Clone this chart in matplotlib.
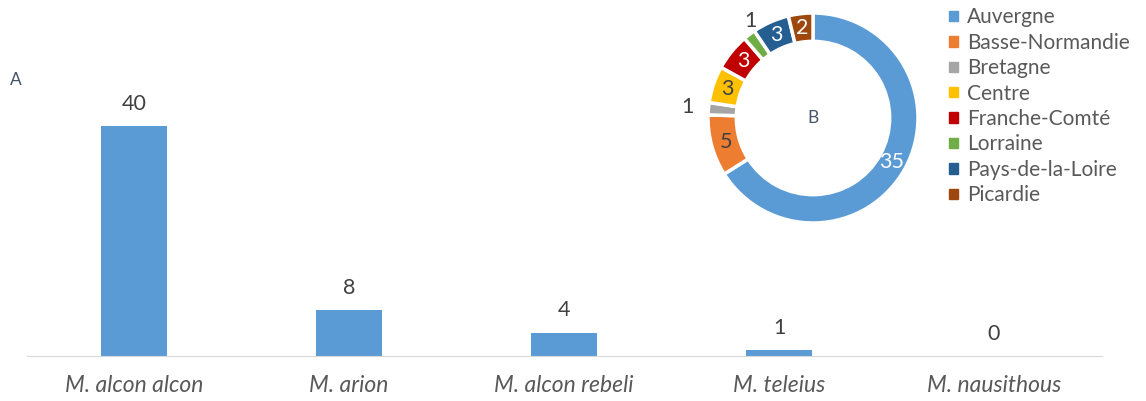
import numpy as np
import matplotlib
matplotlib.use("Agg")
import matplotlib.pyplot as plt

plt.rcParams['font.family'] = ['Lato', 'DejaVu Sans']

# Données
especes = ["M. alcon alcon", "M. arion", "M. alcon rebeli", "M. teleius", "M. nausithous"]
effectifs = [40, 8, 4, 1, 0]

regions = ["Auvergne", "Basse-Normandie", "Bretagne", "Centre", "Franche-Comté",
           "Lorraine", "Pays-de-la-Loire", "Picardie"]
valeurs_regions = [35, 5, 1, 3, 3, 1, 3, 2]
couleurs = ["#5B9BD5", "#ED7D31", "#A5A5A5", "#FFC000", "#C00000",
            "#70AD47", "#255E91", "#9E480E"]
couleurs_texte = ["white", "#404040", "#404040", "#404040", "white",
                  "#404040", "white", "white"]

W, H = 1146, 401
fig = plt.figure(figsize=(W / 100, H / 100), dpi=100)

# Graphique A : barres
ax = fig.add_axes([26.5 / W, 1 - 356 / H, 1075 / W, 345 / H])
x = np.arange(len(especes))
ax.bar(x, effectifs, width=0.31, color="#5B9BD5")
ax.set_xlim(-0.5, len(especes) - 0.5)
ax.set_ylim(0, 60)
for xi, v in zip(x, effectifs):
    ax.annotate(str(v), (xi, v), xytext=(0, 9), textcoords="offset points",
                ha="center", va="bottom", fontsize=15.5, color="#404040")
ax.set_xticks(x)
ax.set_xticklabels(especes, fontsize=16.5, style="italic", color="#595959")
ax.tick_params(axis="x", length=0, pad=14)
ax.set_yticks([])
for s in ["top", "right", "left"]:
    ax.spines[s].set_visible(False)
ax.spines["bottom"].set_color("#D9D9D9")
ax.patch.set_alpha(0)

fig.text(16 / W, 1 - 80 / H, "A", fontsize=12.5, color="#44546A", ha="center", va="center")

# Graphique B : anneau
cx, cy, r = 813, 118, 105
axp = fig.add_axes([(cx - r) / W, 1 - (cy + r) / H, 2 * r / W, 2 * r / H])
wedges, _ = axp.pie(valeurs_regions, colors=couleurs, startangle=90, counterclock=False,
                    wedgeprops=dict(width=0.27, edgecolor="white", linewidth=2.5))
axp.set_xlim(-1, 1)
axp.set_ylim(-1, 1)
axp.set_aspect("equal")
axp.axis("off")

total = sum(valeurs_regions)
cumul = 0
for i, v in enumerate(valeurs_regions):
    milieu = cumul + v / 2
    cumul += v
    ang = np.deg2rad(90 - milieu / total * 360)
    if v == 1:
        dist = 1.2
        col = "#404040"
    else:
        dist = 0.86
        col = couleurs_texte[i]
    xt, yt = dist * np.cos(ang), dist * np.sin(ang)
    if regions[i] == "Lorraine":
        xt, yt = -0.6, 0.92
    axp.text(xt, yt, str(v), ha="center", va="center", fontsize=15.5, color=col)

axp.text(0, 0, "B", ha="center", va="center", fontsize=12.5, color="#44546A")

handles = [plt.Rectangle((0, 0), 1, 1, color=c) for c in couleurs]
fig.legend(handles, regions, loc="upper left", bbox_to_anchor=(939 / W, 1 + 3 / H),
           frameon=False, fontsize=15, handlelength=0.4, handleheight=0.4,
           handletextpad=0.45, labelspacing=0.26, borderpad=0, labelcolor="#595959")

fig.savefig("out.png", dpi=100)
